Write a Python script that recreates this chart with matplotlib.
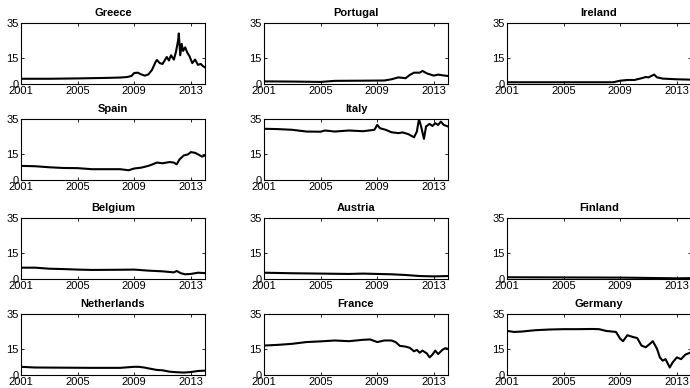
import numpy as np
import matplotlib.pyplot as plt

plt.rcParams['font.family'] = ['Liberation Sans', 'DejaVu Sans']

# decimal-year knots and values for each country
greece_t = [2001.0, 2003.0, 2005.0, 2007.0, 2008.0, 2008.5, 2008.8, 2009.0, 2009.25, 2009.5, 2009.75,
            2010.0, 2010.25, 2010.5, 2010.6, 2010.8, 2011.0, 2011.3, 2011.45, 2011.6, 2011.8, 2011.95,
            2012.1, 2012.15, 2012.25, 2012.35, 2012.45, 2012.6, 2012.75, 2012.9, 2013.1, 2013.3,
            2013.5, 2013.7, 2013.85, 2014.0]
greece_v = [3.0, 3.0, 3.2, 3.5, 3.7, 4.0, 4.6, 6.3, 6.5, 5.5, 4.8,
            5.5, 8.0, 12.5, 13.8, 12.0, 11.5, 15.5, 13.5, 16.5, 14.0, 18.5,
            25.0, 29.0, 16.5, 23.0, 19.0, 21.0, 18.0, 16.0, 12.0, 14.0,
            11.0, 11.5, 10.3, 9.5]

portugal_t = [2001.0, 2003.0, 2005.0, 2006.0, 2008.0, 2009.5, 2010.0, 2010.5, 2011.0, 2011.3,
              2011.6, 2012.0, 2012.2, 2012.5, 2013.0, 2013.3, 2013.6, 2014.0]
portugal_v = [1.5, 1.4, 1.2, 1.8, 1.9, 2.0, 2.7, 3.8, 3.3, 5.2,
              6.5, 6.5, 7.5, 6.1, 4.8, 5.4, 5.0, 4.6]

ireland_t = [2001.0, 2004.0, 2008.5, 2009.0, 2009.5, 2010.0, 2010.5, 2010.8, 2011.0, 2011.4,
             2011.6, 2012.0, 2012.5, 2013.0, 2014.0]
ireland_v = [1.0, 1.0, 1.0, 1.9, 2.3, 2.3, 3.3, 4.0, 3.8, 5.4,
             3.8, 3.1, 2.9, 2.7, 2.5]

spain_t = [2001.0, 2002.0, 2003.0, 2004.0, 2005.0, 2006.0, 2007.0, 2008.0, 2008.6, 2009.0,
           2009.5, 2010.0, 2010.3, 2010.6, 2011.0, 2011.5, 2011.8, 2012.0, 2012.2, 2012.5,
           2012.8, 2013.0, 2013.3, 2013.6, 2013.8, 2014.0]
spain_v = [8.1, 7.9, 7.3, 6.9, 6.8, 6.2, 6.2, 6.2, 5.6, 6.6,
           7.1, 8.1, 9.0, 10.0, 9.6, 10.3, 10.0, 9.0, 11.8, 14.1,
           14.7, 16.0, 15.6, 14.3, 13.4, 14.1]

italy_t = [2001.0, 2002.0, 2003.0, 2004.0, 2005.0, 2005.3, 2006.0, 2007.0, 2008.0, 2008.8,
           2009.0, 2009.2, 2009.6, 2010.0, 2010.5, 2010.8, 2011.2, 2011.6, 2011.8, 2011.95,
           2012.1, 2012.3, 2012.45, 2012.7, 2012.9, 2013.1, 2013.3, 2013.5, 2013.7, 2014.0]
italy_v = [29.4, 29.2, 28.8, 27.8, 27.7, 28.4, 27.8, 28.4, 28.0, 28.8,
           31.6, 29.7, 28.8, 27.4, 26.9, 27.3, 26.3, 24.5, 27.8, 35.0,
           30.7, 23.6, 30.7, 32.2, 31.0, 32.6, 31.6, 33.5, 31.6, 30.7]

belgium_t = [2001.0, 2002.0, 2003.0, 2004.0, 2005.0, 2006.0, 2008.0, 2009.0, 2010.0, 2011.0,
             2011.8, 2012.0, 2012.3, 2012.6, 2013.0, 2013.5, 2014.0]
belgium_v = [6.5, 6.5, 5.9, 5.7, 5.4, 5.2, 5.3, 5.4, 4.8, 4.4,
             3.8, 4.6, 3.3, 2.7, 2.9, 3.6, 3.4]

austria_t = [2001.0, 2003.0, 2005.0, 2007.0, 2008.0, 2009.0, 2010.0, 2011.0, 2012.0, 2013.0, 2014.0]
austria_v = [3.6, 3.3, 3.1, 2.9, 3.1, 2.9, 2.7, 2.3, 1.7, 1.5, 1.7]

finland_t = [2001.0, 2005.0, 2009.0, 2011.0, 2013.0, 2014.0]
finland_v = [1.0, 0.9, 0.8, 0.6, 0.4, 0.5]

netherlands_t = [2001.0, 2002.0, 2006.0, 2008.0, 2009.0, 2009.3, 2009.7, 2010.2, 2010.6, 2011.0,
                 2011.5, 2012.0, 2012.5, 2013.0, 2013.5, 2014.0]
netherlands_v = [4.7, 4.3, 4.1, 4.1, 4.7, 4.7, 4.3, 3.5, 2.9, 2.7,
                 1.9, 1.6, 1.4, 1.7, 2.3, 2.5]

france_t = [2001.0, 2002.0, 2003.0, 2004.0, 2005.0, 2006.0, 2007.0, 2008.0, 2008.5, 2009.0,
            2009.5, 2010.0, 2010.3, 2010.6, 2011.0, 2011.3, 2011.6, 2011.8, 2012.0, 2012.2,
            2012.5, 2012.7, 2012.9, 2013.1, 2013.3, 2013.6, 2013.8, 2014.0]
france_v = [16.9, 17.3, 17.9, 18.9, 19.3, 19.8, 19.4, 20.2, 20.4, 18.9,
            19.8, 19.8, 18.9, 16.7, 16.3, 15.6, 13.6, 14.4, 12.8, 14.0,
            12.4, 10.1, 11.7, 14.0, 12.0, 14.4, 15.4, 15.0]

germany_t = [2001.0, 2001.5, 2002.0, 2003.0, 2004.0, 2005.0, 2006.0, 2007.0, 2007.5, 2008.0,
             2008.7, 2009.0, 2009.2, 2009.5, 2009.9, 2010.2, 2010.5, 2010.8, 2011.1, 2011.3,
             2011.6, 2011.8, 2012.0, 2012.2, 2012.5, 2012.7, 2013.0, 2013.3, 2013.6, 2014.0]
germany_v = [25.3, 24.7, 24.9, 25.7, 26.1, 26.3, 26.3, 26.4, 26.3, 25.3,
             24.7, 20.8, 19.4, 22.8, 21.8, 21.2, 16.9, 15.9, 17.9, 19.4,
             15.0, 10.1, 8.2, 9.1, 4.3, 7.2, 10.1, 9.1, 11.7, 13.0]

# (title, times, values, grid row, grid col)
panels = [
    ('Greece', greece_t, greece_v, 0, 0),
    ('Portugal', portugal_t, portugal_v, 0, 1),
    ('Ireland', ireland_t, ireland_v, 0, 2),
    ('Spain', spain_t, spain_v, 1, 0),
    ('Italy', italy_t, italy_v, 1, 1),
    ('Belgium', belgium_t, belgium_v, 2, 0),
    ('Austria', austria_t, austria_v, 2, 1),
    ('Finland', finland_t, finland_v, 2, 2),
    ('Netherlands', netherlands_t, netherlands_v, 3, 0),
    ('France', france_t, france_v, 3, 1),
    ('Germany', germany_t, germany_v, 3, 2),
]

W, H = 690, 388
col_left = [21, 264, 507]
row_top = [23, 119, 218, 314]
ax_w, ax_h = 184, 61

fig = plt.figure(figsize=(W / 100, H / 100), dpi=100)

for name, t, v, r, c in panels:
    ax = fig.add_axes([col_left[c] / W, 1 - (row_top[r] + ax_h) / H, ax_w / W, ax_h / H])
    ax.plot(t, v, color='black', lw=1.5)
    ax.set_xlim(2001, 2014)
    ax.set_ylim(0, 35)
    ax.set_xticks([2001, 2005, 2009, 2013])
    ax.set_yticks([0, 15, 35])
    ax.tick_params(direction='in', length=2.5, width=0.6, top=True, right=True,
                   labelsize=8, pad=1.5)
    for s in ax.spines.values():
        s.set_linewidth(0.8)
    ax.set_title(name, fontsize=8, fontweight='bold', pad=5)

fig.savefig('out.png', dpi=100)
